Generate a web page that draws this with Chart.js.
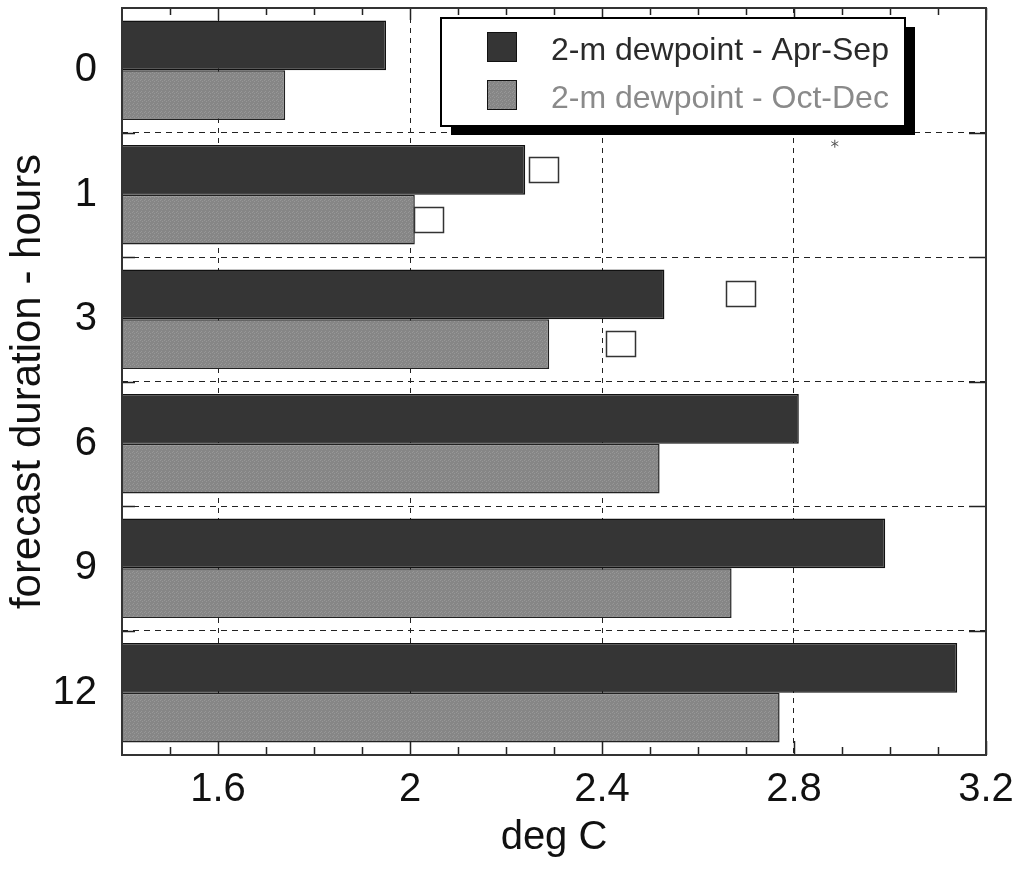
<!DOCTYPE html>
<html>
<head>
<meta charset="utf-8">
<title>2-m dewpoint by forecast duration</title>
<script src="https://cdn.jsdelivr.net/npm/chart.js@4.4.1/dist/chart.umd.min.js"></script>
<style>
  html, body { margin: 0; padding: 0; background: #fff; }
  #wrap { width: 1023px; height: 869px; }
</style>
</head>
<body>
<div id="wrap"><canvas id="chart" width="1023" height="869"></canvas></div>
<script>
(function() {
  'use strict';

  // forecast duration (hours), one band per lead time
  const leadHours = ['0', '1', '3', '6', '9', '12'];

  // 2-m dewpoint values, deg C
  const aprSep = [1.95, 2.24, 2.53, 2.81, 2.99, 3.14];
  const octDec = [1.74, 2.01, 2.29, 2.52, 2.67, 2.77];

  // open square markers next to the 1 h and 3 h bars
  const aprSepMarks = [null, 2.28, 2.69, null, null, null];
  const octDecMarks = [null, 2.04, 2.44, null, null, null];

  // lone asterisk under the legend box: deg C, position in category units
  const starMark = { x: 2.885, y: 0.59 };

  // x axis ticks
  const xTickValues = [1.6, 2, 2.4, 2.8, 3.2];
  const xTickLabels = ['1.6', '2', '2.4', '2.8', '3.2'];
  const xMinorTicks = [1.5, 1.7, 1.8, 1.9, 2.1, 2.2, 2.3, 2.5, 2.6, 2.7, 2.9, 3.0, 3.1];

  const seriesLabels = ['2-m dewpoint - Apr-Sep', '2-m dewpoint - Oct-Dec'];
  const FONT = '"Liberation Sans", Arial, Helvetica, sans-serif';

  /**
   * Speckled grey fill for the Oct-Dec bars
   */
  function stipple(base, dot) {
    const c = document.createElement('canvas');
    c.width = 4;
    c.height = 4;
    const g = c.getContext('2d');
    g.fillStyle = base;
    g.fillRect(0, 0, 4, 4);
    g.fillStyle = dot;
    g.fillRect(0, 0, 1, 1);
    g.fillRect(2, 1, 1, 1);
    g.fillRect(1, 3, 1, 1);
    return g.createPattern(c, 'repeat');
  }
  const greyFill = stipple('#868686', '#979797');

  /**
   * Open squares on the bar rows, plus the small asterisk
   */
  const markSquares = {
    id: 'markSquares',
    afterDatasetsDraw(chart) {
      const { ctx, scales } = chart;
      const x = scales.x;
      const y = scales.y;
      ctx.save();
      ctx.lineWidth = 1.5;
      ctx.strokeStyle = '#333';
      [aprSepMarks, octDecMarks].forEach((marks, di) => {
        const bars = chart.getDatasetMeta(di).data;
        marks.forEach((v, j) => {
          if (v == null) return;
          const cx = Math.round(x.getPixelForValue(v));
          const cy = Math.round(bars[j].y);
          ctx.fillStyle = '#fff';
          ctx.fillRect(cx - 15, cy - 13, 30, 26);
          ctx.strokeRect(cx - 14.5, cy - 12.5, 29, 25);
        });
      });

      const y0 = y.getPixelForValue(0);
      const band = y.getPixelForValue(1) - y0;
      const sx = x.getPixelForValue(starMark.x);
      const sy = y0 + starMark.y * band;
      ctx.lineWidth = 1;
      ctx.strokeStyle = '#555';
      ctx.beginPath();
      ctx.moveTo(sx, sy - 4); ctx.lineTo(sx, sy + 4);
      ctx.moveTo(sx - 3.5, sy - 2); ctx.lineTo(sx + 3.5, sy + 2);
      ctx.moveTo(sx - 3.5, sy + 2); ctx.lineTo(sx + 3.5, sy - 2);
      ctx.stroke();
      ctx.restore();
    }
  };

  /**
   * Plot frame plus inward tick marks on all four sides
   */
  const frameTicks = {
    id: 'frameTicks',
    afterDatasetsDraw(chart) {
      const { ctx, chartArea: a, scales } = chart;
      const x = scales.x;
      const y = scales.y;
      const half = (y.getPixelForValue(1) - y.getPixelForValue(0)) / 2;
      ctx.save();
      ctx.strokeStyle = '#222';
      ctx.lineWidth = 1.5;
      ctx.beginPath();
      xTickValues.forEach(v => {
        const px = Math.round(x.getPixelForValue(v)) + 0.5;
        ctx.moveTo(px, a.bottom); ctx.lineTo(px, a.bottom - 14);
        ctx.moveTo(px, a.top); ctx.lineTo(px, a.top + 12);
      });
      xMinorTicks.forEach(v => {
        const px = Math.round(x.getPixelForValue(v)) + 0.5;
        ctx.moveTo(px, a.bottom); ctx.lineTo(px, a.bottom - 8);
        ctx.moveTo(px, a.top); ctx.lineTo(px, a.top + 7);
      });
      for (let i = 0; i < leadHours.length - 1; i++) {
        const py = Math.round(y.getPixelForValue(i) + half) + 0.5;
        ctx.moveTo(a.left, py); ctx.lineTo(a.left + 13, py);
        ctx.moveTo(a.right, py); ctx.lineTo(a.right - 17, py);
      }
      ctx.stroke();
      ctx.lineWidth = 2;
      ctx.strokeStyle = '#333';
      ctx.strokeRect(a.left, a.top, a.width, a.height);
      ctx.restore();
    }
  };

  /**
   * Boxed legend with a solid drop shadow, top right of the plot
   */
  const legendBox = {
    id: 'legendBox',
    afterDraw(chart) {
      const { ctx, chartArea: a } = chart;
      const bx = a.left + 319, by = a.top + 10, bw = 464, bh = 108;
      ctx.save();
      ctx.fillStyle = '#000';
      ctx.fillRect(bx + 10, by + 9, bw, bh);
      ctx.fillStyle = '#fff';
      ctx.fillRect(bx, by, bw, bh);
      ctx.lineWidth = 2;
      ctx.strokeStyle = '#000';
      ctx.strokeRect(bx, by, bw, bh);

      const swatches = ['#353535', greyFill];
      const textColors = ['#2a2a2a', '#8a8a8a'];
      ctx.font = '32px ' + FONT;
      ctx.textBaseline = 'alphabetic';
      ctx.textAlign = 'left';
      seriesLabels.forEach((label, i) => {
        const rowY = by + 14 + i * 48;
        ctx.fillStyle = swatches[i];
        ctx.fillRect(bx + 46, rowY, 30, 30);
        ctx.lineWidth = 1;
        ctx.strokeStyle = '#111';
        ctx.strokeRect(bx + 46.5, rowY + 0.5, 29, 29);
        ctx.fillStyle = textColors[i];
        ctx.fillText(label, bx + 110, rowY + 28);
      });
      ctx.restore();
    }
  };

  const ctx = document.getElementById('chart');

  new Chart(ctx, {
    type: 'bar',
    data: {
      labels: leadHours,
      datasets: [
        {
          label: seriesLabels[0],
          data: aprSep,
          backgroundColor: '#353535',
          borderColor: '#111',
          borderWidth: 1.5,
          categoryPercentage: 0.8,
          barPercentage: 1.0
        },
        {
          label: seriesLabels[1],
          data: octDec,
          backgroundColor: greyFill,
          borderColor: '#222',
          borderWidth: 1.5,
          categoryPercentage: 0.8,
          barPercentage: 1.0
        }
      ]
    },
    options: {
      indexAxis: 'y',
      responsive: false,
      animation: false,
      devicePixelRatio: 1,
      layout: {
        autoPadding: false,
        padding: { top: 8, right: 37, bottom: 0, left: 0 }
      },
      plugins: {
        legend: { display: false },
        tooltip: { enabled: false }
      },
      scales: {
        x: {
          type: 'linear',
          position: 'bottom',
          min: 1.4,
          max: 3.2,
          afterBuildTicks: scale => {
            scale.ticks = xTickValues.map(v => ({ value: v }));
          },
          afterFit: scale => {
            scale.height = 114;
            scale.paddingLeft = 0;
            scale.paddingRight = 0;
          },
          ticks: {
            padding: 11,
            color: '#111',
            font: { family: FONT, size: 40 },
            maxRotation: 0,
            autoSkip: false,
            callback: value => xTickLabels[xTickValues.indexOf(value)]
          },
          grid: { color: '#222', lineWidth: 1, drawTicks: false },
          border: { display: false, dash: [5, 5] },
          title: {
            display: true,
            text: 'deg C',
            color: '#111',
            font: { family: FONT, size: 40 },
            padding: { top: 0, bottom: 7 }
          }
        },
        y: {
          type: 'category',
          position: 'left',
          afterFit: scale => {
            scale.width = 122;
            scale.paddingTop = 0;
            scale.paddingBottom = 0;
          },
          ticks: {
            padding: 25,
            color: '#111',
            font: { family: FONT, size: 40 }
          },
          grid: { offset: true, color: '#222', lineWidth: 1, drawTicks: false },
          border: { display: false, dash: [6, 5] },
          title: {
            display: true,
            text: 'forecast duration - hours',
            color: '#111',
            font: { family: FONT, size: 42 },
            padding: { top: 3, bottom: 0 }
          }
        }
      }
    },
    plugins: [markSquares, frameTicks, legendBox]
  });
})();
</script>
</body>
</html>
